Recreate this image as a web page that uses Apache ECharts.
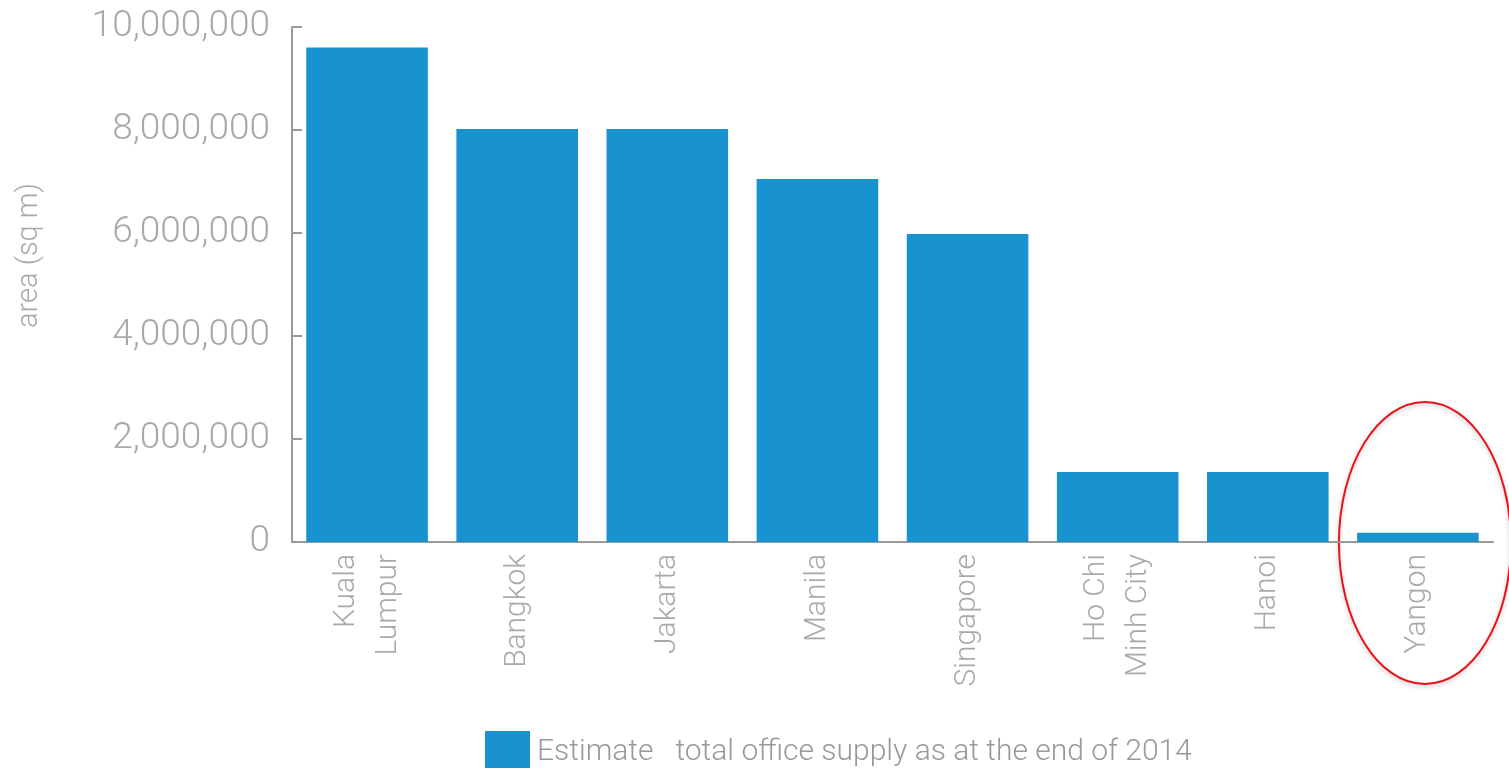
<!DOCTYPE html>
<html>
<head>
    <meta charset="utf-8">
    <title>Office supply</title>
    <script src="https://cdn.jsdelivr.net/npm/echarts@6/dist/echarts.min.js"></script>
    <style>
        html, body { margin: 0; height: 100%; background: #fff; }
        #main { width: 1509px; height: 768px; }
    </style>
</head>
<body>
    <div id="main"></div>
    <script>
        // data
        var cities = ['Kuala\nLumpur', 'Bangkok', 'Jakarta', 'Manila', 'Singapore', 'Ho Chi\nMinh City', 'Hanoi', 'Yangon'];
        var supply = [9600000, 8020000, 8020000, 7050000, 5980000, 1360000, 1360000, 180000];
        var seriesName = 'Estimate   total office supply as at the end of 2014';
        var yTicks = [0, 2000000, 4000000, 6000000, 8000000, 10000000];

        var grey = '#a9a9a9';
        var axisGrey = '#9a9a9a';
        var font = 'Roboto, "Liberation Sans", sans-serif';

        var chart = echarts.init(document.getElementById('main'));

        chart.setOption({
            animation: false,
            grid: { left: 292, right: 16, top: 27, bottom: 226, containLabel: false },
            legend: {
                data: [seriesName],
                left: 480,
                top: 726,
                itemWidth: 45,
                itemHeight: 42,
                itemGap: 0,
                icon: 'rect',
                textStyle: { fontFamily: font, fontWeight: 300, fontSize: 30, color: '#999', padding: [0, 0, 2, 2] }
            },
            xAxis: {
                type: 'category',
                data: cities,
                axisLine: { lineStyle: { color: axisGrey, width: 2 } },
                axisTick: { inside: true, length: 10, lineStyle: { color: axisGrey, width: 2 } },
                axisLabel: {
                    rotate: 90,
                    margin: 12,
                    fontFamily: font,
                    fontWeight: 300,
                    fontSize: 30,
                    lineHeight: 42,
                    color: grey
                }
            },
            yAxis: {
                type: 'value',
                min: yTicks[0],
                max: yTicks[yTicks.length - 1],
                interval: 2000000,
                name: 'area (sq m)',
                nameLocation: 'middle',
                nameRotate: 90,
                nameGap: 248,
                nameTextStyle: { fontFamily: font, fontWeight: 300, fontSize: 29, color: grey, padding: [0, 0, 0, 58] },
                splitLine: { show: false },
                axisLine: { show: true, lineStyle: { color: axisGrey, width: 2 } },
                axisTick: { show: true, inside: true, length: 10, lineStyle: { color: axisGrey, width: 2 } },
                axisLabel: {
                    margin: 22,
                    fontFamily: font,
                    fontWeight: 300,
                    fontSize: 37,
                    color: grey,
                    formatter: function (v) { return v.toLocaleString('en-US'); }
                }
            },
            series: [{
                name: seriesName,
                type: 'bar',
                data: supply,
                barCategoryGap: '19%',
                itemStyle: { color: '#1993d0' }
            }]
        });

        // annotation: longer cap at the top of the y axis and the red ring round Yangon
        var top = chart.convertToPixel({ gridIndex: 0 }, [0, yTicks[yTicks.length - 1]]);
        var ring = chart.convertToPixel({ gridIndex: 0 }, [cities.length - 1, 0]);
        chart.setOption({
            graphic: [
                {
                    type: 'line',
                    shape: { x1: 292, y1: top[1], x2: 322, y2: top[1] },
                    style: { stroke: axisGrey, lineWidth: 2 }
                },
                {
                    type: 'ellipse',
                    shape: { cx: ring[0] + 7, cy: ring[1] + 1, rx: 86, ry: 141 },
                    style: { fill: 'none', stroke: '#e8141b', lineWidth: 2, shadowBlur: 4, shadowColor: 'rgba(0,0,0,0.25)', shadowOffsetY: 2 }
                }
            ]
        });
    </script>
</body>
</html>
